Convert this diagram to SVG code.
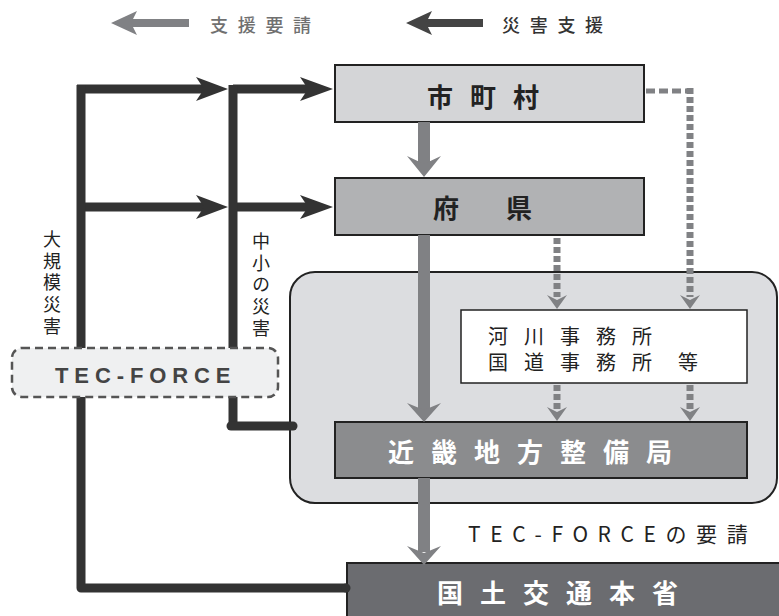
<svg xmlns="http://www.w3.org/2000/svg" width="779" height="616" viewBox="0 0 779 616">
<style>
text{font-family:"Noto Sans CJK JP","Liberation Sans",sans-serif;}
.lat{font-family:"Liberation Sans","Noto Sans CJK JP",sans-serif;}
.dark{stroke:#333;stroke-width:9;fill:none;}
.gray{stroke:#808184;stroke-width:12;fill:none;}
.dot{stroke:#808184;stroke-width:7;fill:none;stroke-dasharray:6 3;}
.dotdh{stroke:#808184;stroke-width:5;fill:none;stroke-dasharray:9 4;}
.gh{fill:#808184;}
.dh{fill:#333;}
.box{stroke:#222;stroke-width:2;}
.hd{font-weight:bold;font-size:26px;letter-spacing:17px;}
.vt{font-size:18px;fill:#222;writing-mode:vertical-rl;letter-spacing:3.7px;}
.jm{font-size:20px;letter-spacing:16px;fill:#222;}
</style>
<rect width="779" height="616" fill="#fff"/>

<g id="legend">
  <rect x="130" y="19" width="59" height="8" fill="#808184"/>
  <path d="M111,23 L137,11 L131,23 L137,35 Z" fill="#808184"/>
  <text x="210" y="32" font-size="18" font-weight="500" letter-spacing="9.7" fill="#707070">支援要請</text>
  <rect x="426" y="19" width="57" height="8" fill="#444"/>
  <path d="M406,23 L432,11 L426,23 L432,35 Z" fill="#444"/>
  <text x="502" y="32" font-size="18" font-weight="500" letter-spacing="9.7" fill="#333">災害支援</text>
</g>

<g id="kinki-region">
  <rect x="290" y="272" width="487" height="231" rx="25" fill="#dcdde0" stroke="#222" stroke-width="2"/>
</g>

<g id="shichoson">
  <rect class="box" x="335" y="65" width="309" height="57" fill="#d4d5d7"/>
  <text class="hd" x="427" y="107" fill="#222">市町村</text>
</g>

<g id="fuken">
  <rect class="box" x="335" y="178" width="309" height="57" fill="#b1b2b4"/>
  <text class="hd" y="218" fill="#222"><tspan x="433">府</tspan><tspan x="506">県</tspan></text>
</g>

<g id="jimusho">
  <rect x="461" y="310" width="286" height="73" fill="#fff" stroke="#222" stroke-width="1.5"/>
  <text class="jm" x="488" y="344">河川事務所</text>
  <text class="jm" x="488" y="370">国道事務所</text>
  <text class="jm" x="678" y="370">等</text>
</g>

<g id="kinki">
  <rect class="box" x="335" y="422" width="412" height="56" fill="#8b8c8e"/>
  <text class="hd" x="388" y="462" fill="#fff" letter-spacing="17.7">近畿地方整備局</text>
</g>

<g id="honsho">
  <rect class="box" x="347" y="563" width="440" height="60" fill="#6b6c70"/>
  <text x="437" y="603" font-size="26" font-weight="bold" letter-spacing="17" fill="#fff">国土交通本省</text>
</g>

<g id="connectors">
  <path class="dark" d="M77,89 H205"/>
  <path class="dh" d="M228,89 L196,77 L204,89 L196,101 Z"/>
  <path class="dark" d="M233,89 H310"/>
  <path class="dh" d="M333,89 L300,77 L308,89 L300,101 Z"/>
  <path class="dark" d="M77,207 H205"/>
  <path class="dh" d="M228,207 L196,195 L204,207 L196,219 Z"/>
  <path class="dark" d="M233,207 H310"/>
  <path class="dh" d="M333,207 L300,195 L308,207 L300,219 Z"/>
  <path class="dark" d="M81,85 V588 H346" stroke-linejoin="round"/>
  <circle cx="346" cy="588" r="4.5" fill="#333"/>
  <path class="dark" d="M233,85 V426"/>
  <path class="dark" d="M231,426 H293" stroke-linecap="round"/>

  <path class="gray" d="M424,122 V165"/>
  <path class="gh" d="M424,177 L441,156 L424,164 L407,156 Z"/>
  <path class="gray" d="M424,235 V410"/>
  <path class="gh" d="M424,422 L441,403 L424,410 L407,403 Z"/>
  <path class="gray" d="M424,478 V552"/>
  <path class="gh" d="M424,565 L441,546 L424,553 L407,546 Z"/>

  <path class="dotdh" d="M646,91 H690"/>
  <path class="dot" d="M690,88 V297"/>
  <path class="gh" d="M690,309 L700,295 L690,300 L680,295 Z"/>
  <path class="dot" d="M557,238 V297"/>
  <path class="gh" d="M557,309 L567,295 L557,300 L547,295 Z"/>
  <path class="dot" d="M557,385 V410"/>
  <path class="gh" d="M557,421 L567,407 L557,412 L547,407 Z"/>
  <path class="dot" d="M690,385 V410"/>
  <path class="gh" d="M690,421 L700,407 L690,412 L680,407 Z"/>
</g>

<g id="labels">
  <text class="vt" x="52" y="230">大規模災害</text>
  <text class="vt" x="261" y="232">中小の災害</text>
  <text x="468" y="542" font-size="21" letter-spacing="9.6" fill="#222">TEC-FORCEの要請</text>
</g>

<g id="tec-force">
  <rect x="12" y="348" width="266" height="49" rx="10" fill="#eff0f1" stroke="#555" stroke-width="2.5" stroke-dasharray="8 5"/>
  <text class="lat" x="55" y="383" font-size="22" font-weight="bold" letter-spacing="5.9" fill="#444">TEC-FORCE</text>
</g>
</svg>
